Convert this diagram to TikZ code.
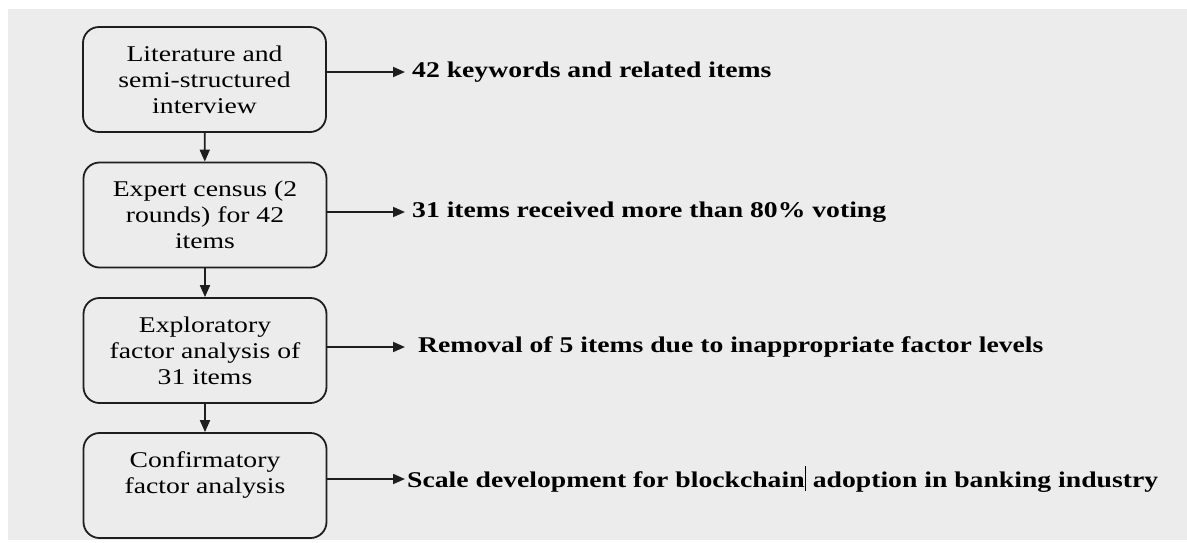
\documentclass[tikz,border=0pt]{standalone}
\usepackage{fontspec}
\setmainfont{Liberation Serif}[FakeStretch=1.23]
\usetikzlibrary{arrows.meta}
\definecolor{panel}{RGB}{236,236,236}
\definecolor{ink}{RGB}{30,30,30}
\tikzset{
  stage/.style={draw=ink, line width=1.8pt, rounded corners=16pt,
    minimum width=243pt, minimum height=105pt, align=center,
    font=\fontsize{22.5pt}{26pt}\selectfont, inner sep=0pt},
  outcome/.style={anchor=west, inner sep=0pt, text=black,
    font=\fontsize{22.5pt}{26pt}\selectfont\bfseries},
  flow/.style={draw=ink, line width=1.8pt, -{Triangle[length=12pt,width=10pt]}}
}
\begin{document}
\begin{tikzpicture}[x=1pt,y=-1pt]
\useasboundingbox (0,0) rectangle (1187,542);
\fill[white] (0,0) rectangle (1187,542);
\fill[panel] (8,9) rectangle (1187,540);

% process stages
\node[stage] (b1) at (204.5,79.5) {Literature and\\semi-structured\\interview};
\node[stage] (b2) at (205,215) {Expert census (2\\rounds) for 42\\items};
\node[stage] (b3) at (205,350.5) {Exploratory\\factor analysis of\\31 items};
\node[stage] (b4) at (205,485.5) {Confirmatory\\factor analysis\\\mbox{}};

% outcomes of each stage
\node[outcome] (r1) at (412,72) {42 keywords and related items};
\node[outcome] (r2) at (412,212) {31 items received more than 80\% voting};
\node[outcome] (r3) at (418,347) {Removal of 5 items due to inappropriate factor levels};
\node[outcome] (r4) at (407,479) {Scale development for blockchain\kern0.5pt\rule[-3pt]{0.8pt}{25pt} adoption in banking industry};

% stage sequence
\draw[flow] (b1) -- (b2);
\draw[flow] (b2) -- (b3);
\draw[flow] (b3) -- (b4);

% stage results
\draw[flow, shorten >=7pt] (b1.east |- r1.west) -- (r1.west);
\draw[flow, shorten >=7pt] (b2.east |- r2.west) -- (r2.west);
\draw[flow, shorten >=13pt] (b3.east |- r3.west) -- (r3.west);
\draw[flow, shorten >=2pt] (b4.east |- r4.west) -- (r4.west);
\end{tikzpicture}
\end{document}
